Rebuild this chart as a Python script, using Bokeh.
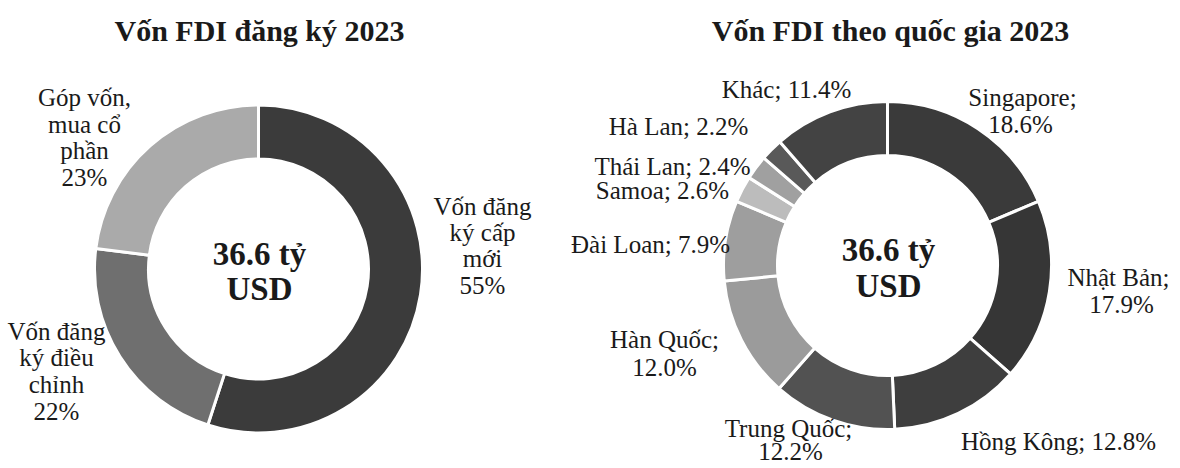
import math
from bokeh.plotting import figure
from bokeh.models import ColumnDataSource, Range1d
from bokeh.core.properties import value
from bokeh.embed import file_html
from bokeh.resources import INLINE

# ---------------- data ----------------
left_title = "Vốn FDI đăng ký 2023"
left_categories = ["Vốn đăng ký cấp mới", "Vốn đăng ký điều chỉnh", "Góp vốn, mua cổ phần"]
left_values = [55, 22, 23]

right_title = "Vốn FDI theo quốc gia 2023"
right_categories = ["Singapore", "Nhật Bản", "Hồng Kông", "Trung Quốc", "Hàn Quốc",
                    "Đài Loan", "Samoa", "Thái Lan", "Hà Lan", "Khác"]
right_values = [18.6, 17.9, 12.8, 12.2, 12.0, 7.9, 2.6, 2.4, 2.2, 11.4]

center_lines = ["36.6 tỷ", "USD"]

# ---------------- style / layout ----------------
W, H = 1180, 468
FONT = "Liberation Serif"
LABEL_SIZE = 25

def X(xi):  # image px -> data
    return xi

def Y(yi):
    return H - yi

left_colors = ["#3b3b3b", "#6f6f6f", "#aaaaaa"]
right_colors = ["#3a3a3a", "#363636", "#3e3e3e", "#525252", "#9b9b9b",
                "#9e9e9e", "#bcbcbc", "#a0a0a0", "#595959", "#434343"]

left_center = (258, 268.5)
right_center = (887, 265)
R_OUT, R_IN = 164, 110

# label layout: lines (wrapping) and image-pixel positions of each line
left_label_layout = {
    "Góp vốn, mua cổ phần": (["Góp vốn,", "mua cổ", "phần"], 84, [97, 124, 150, 177]),
    "Vốn đăng ký cấp mới": (["Vốn đăng", "ký cấp", "mới"], 482, [206, 232, 258, 285]),
    "Vốn đăng ký điều chỉnh": (["Vốn đăng", "ký điều", "chỉnh"], 56, [331, 357, 384, 411]),
}
right_label_layout = {
    "Singapore": (True, [(1022, 97), (1020, 124)]),
    "Nhật Bản": (True, [(1118, 277), (1121, 304)]),
    "Hồng Kông": (False, [(1058, 441)]),
    "Trung Quốc": (True, [(788, 428), (790, 451)]),
    "Hàn Quốc": (True, [(664, 339), (664, 367)]),
    "Đài Loan": (False, [(650, 244)]),
    "Samoa": (False, [(662, 190)]),
    "Thái Lan": (False, [(672, 166)]),
    "Hà Lan": (False, [(678, 126)]),
    "Khác": (False, [(786, 89)]),
}

p = figure(width=W, height=H, output_backend="svg", toolbar_location=None,
           x_range=Range1d(0, W), y_range=Range1d(0, H),
           x_axis_type=None, y_axis_type=None, min_border=0,
           background_fill_color="white", border_fill_color="white")
p.grid.visible = False
p.outline_line_color = None


def donut(values, colors, center):
    total = float(sum(values))
    starts, ends = [], []
    cum = 0.0
    for v in values:
        starts.append(math.pi / 2 - 2 * math.pi * cum / total)
        cum += v
        ends.append(math.pi / 2 - 2 * math.pi * cum / total)
    src = ColumnDataSource(dict(x=[X(center[0])] * len(values), y=[Y(center[1])] * len(values),
                                start=starts, end=ends, color=colors))
    p.annular_wedge(x="x", y="y", inner_radius=R_IN, outer_radius=R_OUT,
                    start_angle="start", end_angle="end", direction="clock",
                    fill_color="color", line_color="white", line_width=3, source=src)


donut(left_values, left_colors, left_center)
donut(right_values, right_colors, right_center)


def txt(x, y, s, size, bold=False):
    p.text(x=[X(x)], y=[Y(y)], text=[s], text_font=value(FONT),
           text_font_size=f"{size}px", text_font_style="bold" if bold else "normal",
           text_align="center", text_baseline="middle", text_color="#1a1a1a")


# titles
txt(259, 30, left_title, 30, True)
txt(890, 30, right_title, 30, True)

# center texts
for c, ys in ((left_center, (253, 288)), (right_center, (249, 285))):
    cx = c[0] + 1
    for s, yy in zip(center_lines, ys):
        txt(cx, yy, s, 33, True)

# left labels
for cat, v in zip(left_categories, left_values):
    lines, lx, ys = left_label_layout[cat]
    all_lines = lines + [f"{v}%"]
    for s, yy in zip(all_lines, ys):
        txt(lx, yy, s, LABEL_SIZE)

# right labels
for cat, v in zip(right_categories, right_values):
    two, pos = right_label_layout[cat]
    if two:
        parts = [f"{cat};", f"{v:.1f}%"]
    else:
        parts = [f"{cat}; {v:.1f}%"]
    for s, (lx, ly) in zip(parts, pos):
        txt(lx, ly, s, LABEL_SIZE)

open("out.html", "w").write(file_html(p, INLINE))
